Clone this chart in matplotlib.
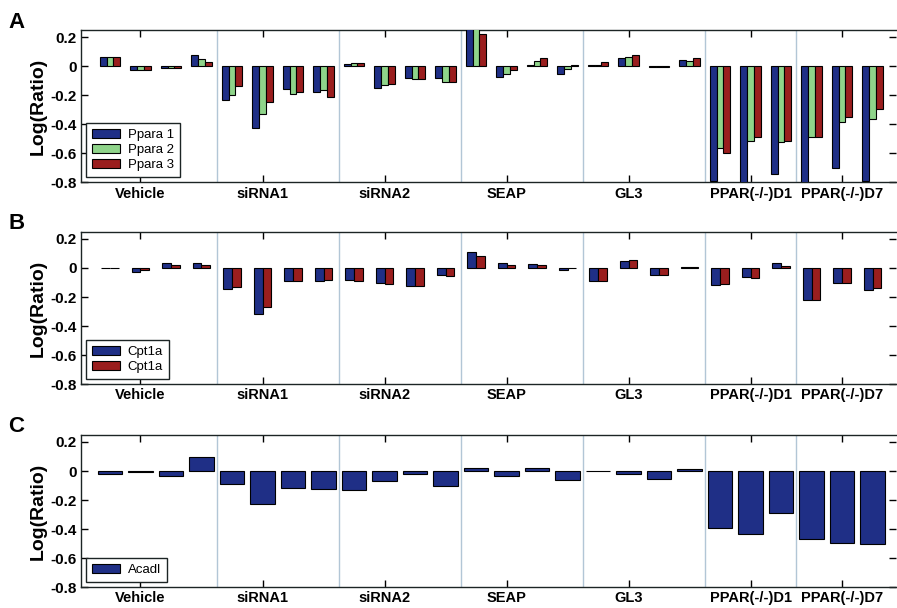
#Tres paneles de barras (A, B, C) con el Log(Ratio) por muestra
#Cada grupo tiene 4 replicas, salvo PPAR(-/-)D1 y PPAR(-/-)D7 que tienen 3

import numpy as np
import matplotlib.pyplot as plt
from matplotlib.ticker import FixedLocator, FixedFormatter

plt.rcParams['font.family'] = ['Liberation Sans', 'DejaVu Sans']
plt.rcParams['axes.unicode_minus'] = False

#grupos y cuantas replicas tiene cada uno
grupos = ["Vehicle", "siRNA1", "siRNA2", "SEAP", "GL3", "PPAR(-/-)D1", "PPAR(-/-)D7"]
replicas = [4, 4, 4, 4, 4, 3, 3]
pos_etiquetas = [2, 6, 10, 14, 18, 22, 25]     #donde va el nombre de cada grupo

#Panel A: Ppara (3 sondas)
ppara_1 = [0.060, -0.030, -0.014, 0.074,
           -0.230, -0.425, -0.160, -0.180,
           0.012, -0.150, -0.083, -0.083,
           0.300, -0.075, 0.010, -0.053,
           0.005, 0.055, -0.004, 0.044,
           -0.790, -0.850, -0.740,
           -0.850, -0.700, -0.790]
ppara_2 = [0.065, -0.030, -0.014, 0.050,
           -0.200, -0.330, -0.190, -0.165,
           0.020, -0.133, -0.090, -0.110,
           0.300, -0.057, 0.037, -0.020,
           0.005, 0.065, -0.004, 0.033,
           -0.565, -0.515, -0.520,
           -0.490, -0.386, -0.363]
ppara_3 = [0.065, -0.030, -0.010, 0.030,
           -0.135, -0.250, -0.177, -0.214,
           0.020, -0.120, -0.090, -0.110,
           0.220, -0.030, 0.055, 0.007,
           0.028, 0.079, -0.004, 0.056,
           -0.595, -0.490, -0.514,
           -0.490, -0.347, -0.298]

#Panel B: Cpt1a (2 sondas)
cpt1a_1 = [-0.002, -0.025, 0.034, 0.034,
           -0.145, -0.317, -0.087, -0.087,
           -0.080, -0.100, -0.124, -0.048,
           0.108, 0.034, 0.028, -0.012,
           -0.087, 0.050, -0.048, 0.007,
           -0.120, -0.062, 0.034,
           -0.218, -0.103, -0.150]
cpt1a_2 = [-0.002, -0.016, 0.023, 0.020,
           -0.133, -0.267, -0.087, -0.080,
           -0.090, -0.108, -0.124, -0.055,
           0.085, 0.020, 0.020, -0.003,
           -0.087, 0.057, -0.048, 0.007,
           -0.110, -0.070, 0.016,
           -0.218, -0.103, -0.140]

#Panel C: Acadl (1 sonda)
acadl = [-0.023, -0.004, -0.035, 0.096,
         -0.092, -0.224, -0.120, -0.122,
         -0.127, -0.070, -0.020, -0.100,
         0.024, -0.035, 0.024, -0.060,
         -0.003, -0.023, -0.057, 0.017,
         -0.390, -0.433, -0.287,
         -0.468, -0.494, -0.499]

azul = "#1f2f86"
verde = "#8fd48a"
rojo = "#9a1e1e"


def panel(ax, series, nombres, colores, letra):
    n = len(series)
    x = np.arange(1, len(series[0]) + 1)
    #ancho de grupo tipo MATLAB
    ancho_grupo = 0.8 if n == 1 else min(0.8, n / (n + 1.5))
    ancho = ancho_grupo / n
    for i in range(n):
        desp = (i - (n - 1) / 2) * ancho
        ax.bar(x + desp, series[i], width=ancho, color=colores[i],
               edgecolor="black", linewidth=0.8, label=nombres[i], zorder=3)

    #lineas que separan los grupos
    fin = np.cumsum(replicas)[:-1]
    for f in fin:
        ax.axvline(f + 0.5, color="#b2c6d6", linewidth=1.0, zorder=1)

    ax.set_xlim(0.05, 26.77)
    ax.set_ylim(-0.8, 0.25)
    ax.xaxis.set_major_locator(FixedLocator(pos_etiquetas))
    ax.xaxis.set_major_formatter(FixedFormatter(grupos))
    yt = [-0.8, -0.6, -0.4, -0.2, 0, 0.2]
    ax.yaxis.set_major_locator(FixedLocator(yt))
    ax.yaxis.set_major_formatter(FixedFormatter(["-0.8", "-0.6", "-0.4", "-0.2", "0", "0.2"]))
    ax.tick_params(direction="in", top=True, right=True, length=5, width=1, pad=3)
    ax.tick_params(axis="x", labelsize=10.5)
    ax.tick_params(axis="y", labelsize=11)
    for t in ax.get_xticklabels() + ax.get_yticklabels():
        t.set_fontweight("bold")
    ax.set_ylabel("Log(Ratio)", fontsize=14, fontweight="bold", labelpad=3)
    for s in ax.spines.values():
        s.set_color("#1c2424")
        s.set_linewidth(1.0)
    ax.spines["right"].set_visible(False)

    leg = ax.legend(loc="lower left", fontsize=9.5, handlelength=2.1, handleheight=0.75,
                    handletextpad=0.6, labelspacing=0.2, borderaxespad=0.4,
                    borderpad=0.45, fancybox=False, framealpha=1)
    leg.get_frame().set_edgecolor("#1c2424")
    leg.get_frame().set_linewidth(1.0)

    #letra del panel
    pos = ax.get_position()
    ax.figure.text(0.009, pos.y1 + 0.03, letra, fontsize=16, fontweight="bold",
                   va="top", ha="left")


fig = plt.figure(figsize=(8.97, 6.08), dpi=100)
izq, ancho_ax, alto = 0.0903, 0.9087, 0.251
ax_a = fig.add_axes([izq, 0.700, ancho_ax, alto])
ax_b = fig.add_axes([izq, 0.368, ancho_ax, alto])
ax_c = fig.add_axes([izq, 0.034, ancho_ax, alto])

panel(ax_a, [ppara_1, ppara_2, ppara_3], ["Ppara 1", "Ppara 2", "Ppara 3"],
      [azul, verde, rojo], "A")
panel(ax_b, [cpt1a_1, cpt1a_2], ["Cpt1a", "Cpt1a"], [azul, rojo], "B")
panel(ax_c, [acadl], ["Acadl"], [azul], "C")

plt.savefig("out.png", dpi=100)
plt.close()
